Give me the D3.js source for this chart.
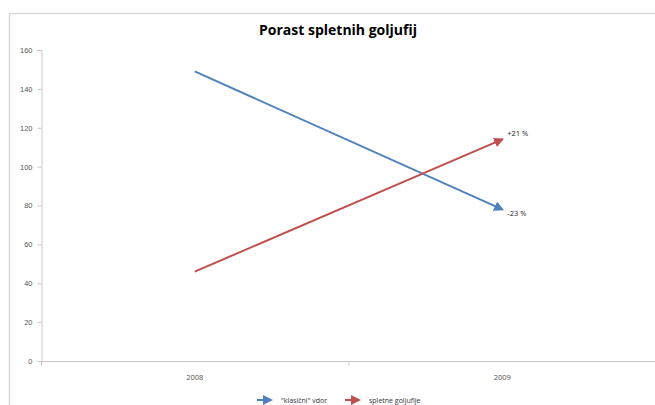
<!DOCTYPE html>
<html>
<head>
<meta charset="utf-8">
<script src="https://cdn.jsdelivr.net/npm/d3@7"></script>
<style>
  html, body { margin: 0; padding: 0; background: #fff; }
  svg { display: block; font-family: "Open Sans", "Liberation Sans", sans-serif; }
</style>
</head>
<body>
<svg id="chart" width="655" height="405"></svg>
<script>
// Chart data
const categories = ["2008", "2009"];
const seriesNames = ["\"klasični\" vdor", "spletne goljufije"];
const seriesColors = ["#4f81bd", "#c0504d"];
const classicValues = [149, 78];
const onlineValues = [46, 114];
const endLabels = ["-23 %", "+21 %"];
const yTicks = [0, 20, 40, 60, 80, 100, 120, 140, 160];
const title = "Porast spletnih goljufij";

const series = [
  { name: seriesNames[0], color: seriesColors[0], values: classicValues, label: endLabels[0] },
  { name: seriesNames[1], color: seriesColors[1], values: onlineValues, label: endLabels[1] }
];

const svg = d3.select("#chart");
const W = 655, H = 405;
const plot = { left: 41, right: 656, top: 50, bottom: 361 };

// Outer chart frame
svg.append("rect")
  .attr("x", 9.5).attr("y", 13.5)
  .attr("width", W + 10).attr("height", H + 10)
  .attr("fill", "#fff").attr("stroke", "#d9d9d9").attr("stroke-width", 1.5);

// Title
svg.append("text")
  .attr("x", 338).attr("y", 35)
  .attr("text-anchor", "middle")
  .attr("font-size", 14).attr("font-weight", "bold").attr("fill", "#000")
  .text(title);

const x = d3.scalePoint().domain(categories).range([plot.left, plot.right]).padding(0.5);
const xBand = d3.scaleBand().domain(categories).range([plot.left, plot.right]);
const y = d3.scaleLinear().domain([0, 160]).range([plot.bottom, plot.top]);

// Y axis
const yAxis = svg.append("g")
  .attr("transform", `translate(${plot.left + 0.5},0)`)
  .call(d3.axisLeft(y).tickValues(yTicks).tickSize(4).tickPadding(5));
yAxis.selectAll("path, line").attr("stroke", "#c8c8c8");
yAxis.selectAll("text").attr("font-size", 7.5).attr("fill", "#555");

// X axis with ticks between categories
const xAxis = svg.append("g")
  .attr("transform", `translate(0,${plot.bottom + 0.5})`);
xAxis.append("line")
  .attr("x1", plot.left).attr("x2", plot.right)
  .attr("stroke", "#c8c8c8");
const bounds = [xBand.range()[0], ...categories.map(c => xBand(c) + xBand.bandwidth())];
xAxis.selectAll(".tk").data(bounds).join("line")
  .attr("class", "tk")
  .attr("x1", d => d + 0.5).attr("x2", d => d + 0.5)
  .attr("y1", 0).attr("y2", 4)
  .attr("stroke", "#c8c8c8");
xAxis.selectAll(".lbl").data(categories).join("text")
  .attr("class", "lbl")
  .attr("x", d => x(d)).attr("y", 18)
  .attr("text-anchor", "middle")
  .attr("font-size", 7.5).attr("fill", "#555")
  .text(d => d);

// Arrow markers
const defs = svg.append("defs");
series.forEach((s, i) => {
  defs.append("marker")
    .attr("id", "arrow" + i)
    .attr("viewBox", "0 0 10 10")
    .attr("refX", 8).attr("refY", 5)
    .attr("markerWidth", 5).attr("markerHeight", 5)
    .attr("markerUnits", "strokeWidth")
    .attr("orient", "auto")
    .append("path")
    .attr("d", "M0,0 L10,5 L0,10 Z")
    .attr("fill", s.color);
});

// Series lines
const line = d3.line().x((d, i) => x(categories[i])).y(d => y(d));
series.forEach((s, i) => {
  svg.append("path")
    .datum(s.values)
    .attr("d", line)
    .attr("fill", "none")
    .attr("stroke", s.color)
    .attr("stroke-width", 2)
    .attr("marker-end", `url(#arrow${i})`);
  const last = s.values.length - 1;
  svg.append("text")
    .attr("x", x(categories[last]) + 5)
    .attr("y", y(s.values[last]) + 3 - (i === 1 ? 6 : -4))
    .attr("font-size", 7.5).attr("fill", "#222")
    .text(s.label);
});

// Legend
const legend = svg.append("g").attr("transform", "translate(257,400)");
const legendItems = [{ dx: 0 }, { dx: 88 }];
series.forEach((s, i) => {
  const g = legend.append("g").attr("transform", `translate(${legendItems[i].dx},0)`);
  g.append("line")
    .attr("x1", 0).attr("x2", 14).attr("y1", 0).attr("y2", 0)
    .attr("stroke", s.color).attr("stroke-width", 2)
    .attr("marker-end", `url(#arrow${i})`);
  g.append("text")
    .attr("x", 24).attr("y", 2.5)
    .attr("font-size", 7).attr("fill", "#333")
    .text(s.name);
});
</script>
</body>
</html>
